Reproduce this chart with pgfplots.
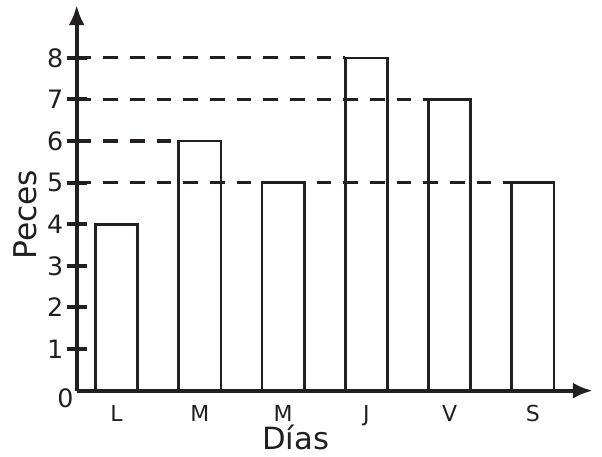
\documentclass[border=0pt]{standalone}
\usepackage{fontspec}
\setmainfont{DejaVu Sans}
\usepackage{pgfplots}
\pgfplotsset{compat=1.18}
\usetikzlibrary{arrows.meta}
\definecolor{ink}{HTML}{231F20}
\begin{document}
\begin{tikzpicture}
\begin{axis}[
  anchor=south west, at={(0,0)},
  x=62.47pt, y=31.2pt,
  xmin=-0.478, xmax=5.72, ymin=0, ymax=9.27,
  clip=false,
  axis lines=left,
  axis line style={line width=3pt, ink, -{Latex[length=15pt,width=12pt]}},
  /pgf/number format/assume math mode=true,
  ytick={1,2,3,4,5,6,7,8},
  ytick style={line width=3pt, ink},
  major tick length=15pt,
  tick align=center,
  yticklabel style={font=\fontsize{19}{19}\selectfont, text=ink, xshift=1pt},
  xtick={0,1,2,3,4,5},
  xticklabels={L,M,M,J,V,S},
  xtick style={draw=none},
  xticklabel style={font=\fontsize{16.5}{16.5}\selectfont, text=ink},
  xlabel={Días},
  ylabel={Peces},
  xlabel style={font=\fontsize{23}{23}\selectfont, text=ink, inner sep=0pt, at={(axis description cs:0.424,-0.122)}, anchor=center},
  ylabel style={font=\fontsize{23.5}{23.5}\selectfont, text=ink, at={(axis description cs:-0.1,0.456)}, anchor=center},
]
\addplot[ink, line width=2.4pt, dash pattern=on 11pt off 9pt] coordinates {(-0.478,8) (2.746,8)};
\addplot[ink, line width=2.4pt, dash pattern=on 11pt off 9pt] coordinates {(-0.478,7) (3.746,7)};
\addplot[ink, line width=2.4pt, dash pattern=on 11pt off 9pt] coordinates {(-0.478,6) (0.746,6)};
\addplot[ink, line width=2.4pt, dash pattern=on 11pt off 9pt] coordinates {(-0.478,5) (4.746,5)};
\addplot[ybar, bar width=0.508, draw=ink, line width=2pt, fill=none] coordinates {(0,4) (1,6) (2,5) (3,8) (4,7) (5,5)};
\node[font=\fontsize{19}{19}\selectfont, text=ink] at (axis cs:-0.478,0) [xshift=-8.5pt, yshift=-5.5pt] {0};
\end{axis}
\pgfresetboundingbox
\path[use as bounding box] (-57.5pt,-49.7pt) rectangle (394pt,293pt);
\end{tikzpicture}
\end{document}
